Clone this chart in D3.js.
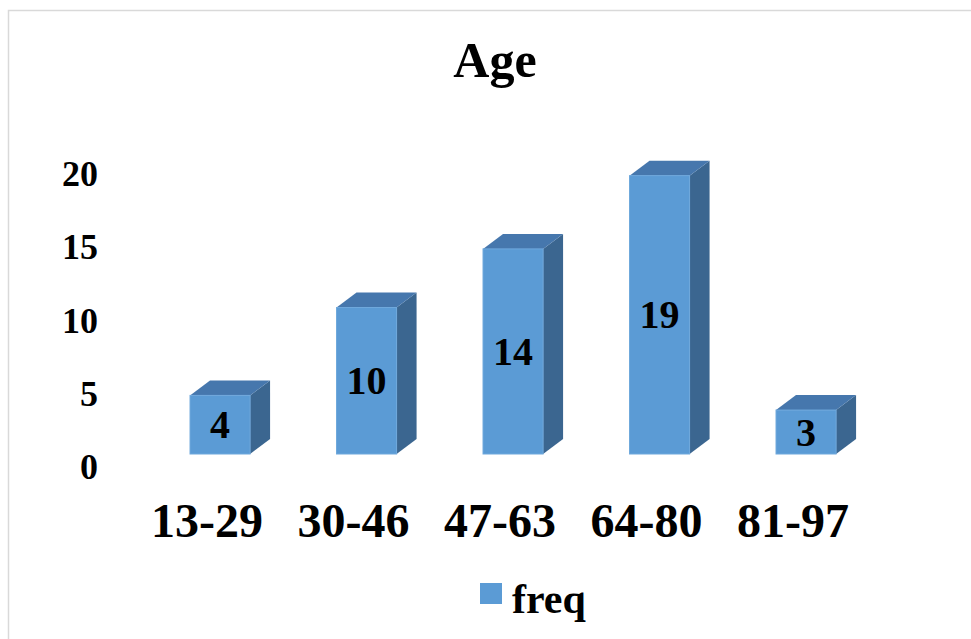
<!DOCTYPE html>
<html>
<head>
<meta charset="utf-8">
<script src="https://cdn.jsdelivr.net/npm/d3@7"></script>
<style>
  html, body { margin: 0; padding: 0; background: #fff; }
  svg { display: block; }
  text { font-family: "Liberation Serif", "Times New Roman", serif; font-weight: bold; fill: #000; }
</style>
</head>
<body>
<svg id="chart" width="971" height="639"></svg>
<script>
// Age distribution, frequency per age band
const categories = ["13-29", "30-46", "47-63", "64-80", "81-97"];
const freq = [4, 10, 14, 19, 3];
const yTicks = [0, 5, 10, 15, 20];
const seriesName = "freq";
const chartTitle = "Age";

const W = 971, H = 639;
const svg = d3.select("#chart");

// outer chart-area frame
svg.append("rect")
  .attr("x", 8.5).attr("y", 10.5)
  .attr("width", W + 20).attr("height", H + 20)
  .attr("fill", "#fff").attr("stroke", "#d9d9d9").attr("stroke-width", 1.5);

const x = d3.scaleBand()
  .domain(categories)
  .range([146.8, 146.8 + 5 * 146.5])
  .paddingInner(0.59)
  .paddingOuter(0.295);

const y = d3.scaleLinear().domain([0, 20]).range([454, 161]);

// oblique depth of the 3D columns
const dx = 20, dy = -15;
// label offset of the axes relative to the bar front plane
const axOff = 13;

const colFront = "#5b9bd5", colTop = "#4677ad", colSide = "#3b6690";

// title
svg.append("text")
  .attr("x", 495).attr("y", 77)
  .attr("text-anchor", "middle")
  .style("font-size", "50px")
  .text(chartTitle);

// value axis labels
svg.append("g").selectAll("text")
  .data(yTicks)
  .join("text")
  .attr("x", 98)
  .attr("y", d => y(d) + axOff)
  .attr("text-anchor", "end")
  .attr("dominant-baseline", "central")
  .style("font-size", "36px")
  .text(d => d);

// category labels
svg.append("g").selectAll("text")
  .data(categories)
  .join("text")
  .attr("x", d => x(d) + x.bandwidth() / 2 - axOff)
  .attr("y", 537)
  .attr("text-anchor", "middle")
  .style("font-size", "48px")
  .text(d => d);

// 3D columns
const bars = svg.append("g").selectAll("g")
  .data(categories.map((c, i) => ({ c, v: freq[i] })))
  .join("g");

bars.each(function (d) {
  const g = d3.select(this);
  const x0 = x(d.c), x1 = x0 + x.bandwidth();
  const yt = y(d.v), yb = y(0);
  // side face
  g.append("path")
    .attr("d", `M${x1},${yt}L${x1 + dx},${yt + dy}L${x1 + dx},${yb + dy}L${x1},${yb}Z`)
    .attr("fill", colSide);
  // top face
  g.append("path")
    .attr("d", `M${x0},${yt}L${x0 + dx},${yt + dy}L${x1 + dx},${yt + dy}L${x1},${yt}Z`)
    .attr("fill", colTop);
  // front face
  g.append("rect")
    .attr("x", x0).attr("y", yt)
    .attr("width", x.bandwidth()).attr("height", yb - yt)
    .attr("fill", colFront)
    .attr("stroke", "#6fa8dc").attr("stroke-width", 1);
  // value label
  g.append("text")
    .attr("x", (x0 + x1) / 2)
    .attr("y", (yt + yb) / 2)
    .attr("text-anchor", "middle")
    .attr("dominant-baseline", "central")
    .style("font-size", "40px")
    .text(d.v);
});

// legend
const lg = svg.append("g");
lg.append("rect")
  .attr("x", 480).attr("y", 583)
  .attr("width", 22).attr("height", 21)
  .attr("fill", colFront);
lg.append("text")
  .attr("x", 512).attr("y", 613)
  .style("font-size", "42px")
  .text(seriesName);
</script>
</body>
</html>
